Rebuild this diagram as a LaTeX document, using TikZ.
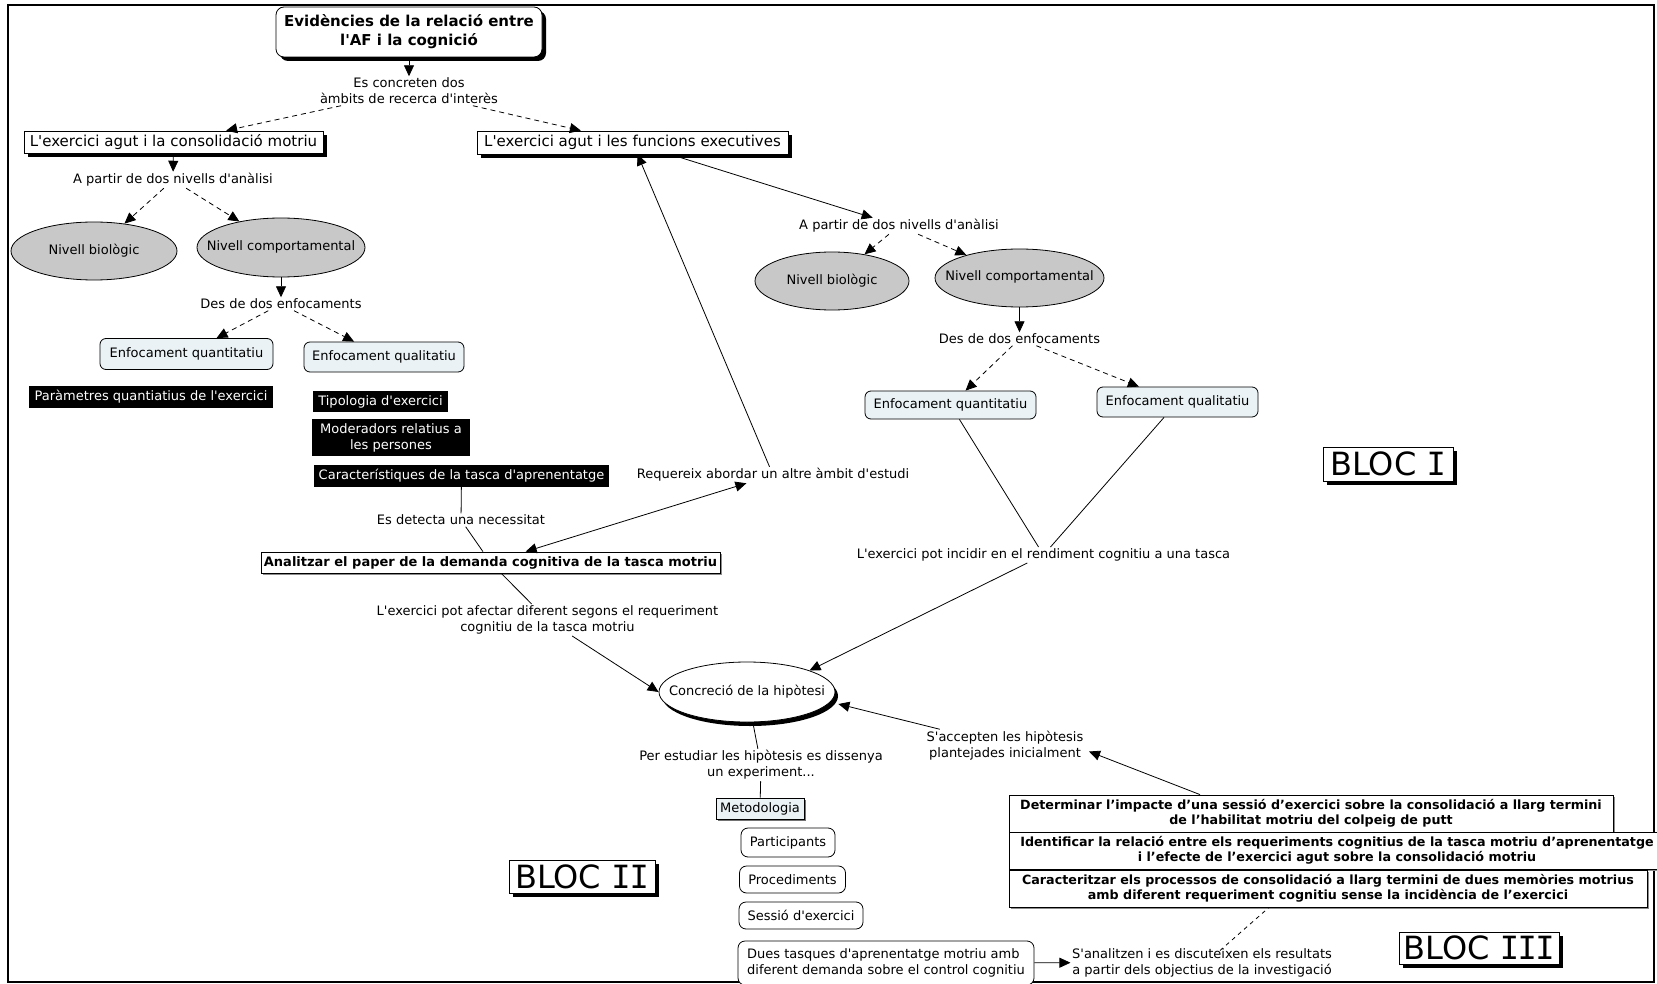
\documentclass[tikz,border=0pt]{standalone}
\usepackage{fontspec}
\setmainfont{DejaVu Sans}[Ligatures=TeXOff]
\newfontfamily\monoI{DejaVu Sans Mono}
\usetikzlibrary{arrows.meta,shadows,shapes.geometric}

\definecolor{palefill}{HTML}{EAF2F5}
\definecolor{levelgrey}{HTML}{C8C8C8}

\tikzset{
  txt/.style={font=\fontsize{13}{16}\selectfont},
  phrase/.style={txt, align=center, inner sep=1.5pt},
  cbox/.style={txt, draw, line width=0.8pt, fill=white, align=center, inner sep=0pt},
  bigbox/.style={cbox, font=\fontsize{15}{19}\selectfont,
    general shadow={fill=black, shadow xshift=4pt, shadow yshift=-4pt}},
  titlebox/.style={bigbox, rounded corners=8pt, font=\bfseries\fontsize{15}{19}\selectfont},
  approach/.style={cbox, fill=palefill, rounded corners=6pt},
  blackbox/.style={txt, fill=black, text=white, align=center, inner sep=0pt},
  boldbox/.style={cbox, font=\bfseries\fontsize{13}{16}\selectfont,
    general shadow={fill=black!45, shadow xshift=1.5pt, shadow yshift=-1.5pt}},
  aimbox/.style={boldbox, font=\bfseries\fontsize{12.7}{15.5}\selectfont},
  stepbox/.style={cbox, rounded corners=7pt},
  lvlell/.style={ellipse, draw, line width=0.8pt, fill=levelgrey, inner sep=0pt},
  bloc/.style={draw, line width=0.8pt, fill=white, inner sep=0pt,
    font=\fontsize{32}{32}\selectfont,
    general shadow={fill=black, shadow xshift=4pt, shadow yshift=-4pt}},
  plainline/.style={line width=0.8pt},
  arr/.style={plainline, -{Triangle[length=11pt,width=10pt]}},
  darr/.style={arr, dash pattern=on 5pt off 4pt},
}

\begin{document}
\begin{tikzpicture}[x=1pt, y=-1pt]
\useasboundingbox (0,0) rectangle (1657,984);
\fill[white] (0,0) rectangle (1657,984);
\draw[line width=1.6pt] (8,5) rectangle (1654,982);

% ---- top of the map
\node[titlebox, minimum width=266pt, minimum height=50pt] (title) at (409,32)
  {Evidències de la relació entre\\l'AF i la cognició};
\node[phrase] (L1) at (409,91) {Es concreten dos\\àmbits de recerca d'interès};
\node[bigbox, minimum width=299pt, minimum height=22pt] (box1) at (173.5,142)
  {L'exercici agut i la consolidació motriu};
\node[bigbox, minimum width=311pt, minimum height=23pt] (box2) at (632.5,142.5)
  {L'exercici agut i les funcions executives};

% ---- left branch
\node[phrase] (L2) at (173,180) {A partir de dos nivells d'anàlisi};
\node[lvlell, minimum width=166pt, minimum height=58pt,
  label={[txt]center:Nivell biològic}] (E1) at (94,251) {};
\node[lvlell, minimum width=168pt, minimum height=59pt,
  label={[txt, yshift=1pt]center:Nivell comportamental}] (E2) at (281,247.5) {};
\node[phrase] (L3) at (281,304) {Des de dos enfocaments};
\node[approach, minimum width=173pt, minimum height=31pt] (Q1) at (186.5,354) {Enfocament quantitatiu};
\node[approach, minimum width=160pt, minimum height=30pt] (Ql1) at (384,357) {Enfocament qualitatiu};

\node[blackbox, minimum width=244pt, minimum height=22pt] (B1) at (151,397)
  {Paràmetres quantiatius de l'exercici};
\node[blackbox, minimum width=135pt, minimum height=21pt] (B2) at (380.5,401.5)
  {Tipologia d'exercici};
\node[blackbox, minimum width=158pt, minimum height=37pt] (B3) at (391,437.5)
  {Moderadors relatius a\\les persones};
\node[blackbox, minimum width=295pt, minimum height=22pt] (B4) at (461.5,476)
  {Característiques de la tasca d'aprenentatge};

\node[phrase] (L4) at (461,520) {Es detecta una necessitat};
\node[boldbox, minimum width=459pt, minimum height=21pt] (An) at (490.5,562.5)
  {Analitzar el paper de la demanda cognitiva de la tasca motriu};
\node[phrase] (L5) at (773,475) {Requereix abordar un altre àmbit d'estudi};
\node[phrase] (L9) at (547.5,620)
  {L'exercici pot afectar diferent segons el requeriment\\cognitiu de la tasca motriu};

% ---- right branch
\node[phrase] (L6) at (899,226) {A partir de dos nivells d'anàlisi};
\node[lvlell, minimum width=154pt, minimum height=58pt,
  label={[txt]center:Nivell biològic}] (E3) at (832,281) {};
\node[lvlell, minimum width=169pt, minimum height=58pt,
  label={[txt, yshift=1pt]center:Nivell comportamental}] (E4) at (1019.5,278) {};
\node[phrase] (L7) at (1019.5,339) {Des de dos enfocaments};
\node[approach, minimum width=171pt, minimum height=28pt] (Q2) at (950.5,405) {Enfocament quantitatiu};
\node[approach, minimum width=161pt, minimum height=30pt] (Ql2) at (1177.5,402) {Enfocament qualitatiu};
\node[phrase] (L8) at (1043.5,555) {L'exercici pot incidir en el rendiment cognitiu a una tasca};

% ---- hypothesis and method
\node[ellipse, draw, line width=0.8pt, fill=white, inner sep=0pt,
  minimum width=176pt, minimum height=60pt,
  general shadow={fill=black, shadow xshift=3pt, shadow yshift=-4pt},
  label={[txt]center:Concreció de la hipòtesi}] (C) at (747,692) {};
\node[phrase] (L10) at (1005,745.5) {S'accepten les hipòtesis\\plantejades inicialment};
\node[phrase] (L11) at (761,765) {Per estudiar les hipòtesis es dissenya\\un experiment...};
\node[cbox, fill=palefill, minimum width=88pt, minimum height=21pt,
  general shadow={fill=black!55, shadow xshift=1.5pt, shadow yshift=-1.5pt}] (M) at (760,808.5) {Metodologia};
\node[stepbox, minimum width=94pt, minimum height=29pt] (P1) at (788,842.5) {Participants};
\node[stepbox, minimum width=106pt, minimum height=27pt] (P2) at (792.5,879.5) {Procediments};
\node[stepbox, minimum width=124pt, minimum height=27pt] (P3) at (801,915.5) {Sessió d'exercici};
\node[stepbox, align=left, minimum width=296pt, minimum height=44pt] (P4) at (886,963)
  {Dues tasques d'aprenentatge motriu amb\\diferent demanda sobre el control cognitiu};
\node[phrase] (L12) at (1202,962.5)
  {S'analitzen i es discuteixen els resultats\\a partir dels objectius de la investigació};

% ---- aims of the study
\node[aimbox, minimum width=604pt, minimum height=37pt] (D1) at (1311,813.5)
  {Determinar l’impacte d’una sessió d’exercici sobre la consolidació a llarg termini\\de l’habilitat motriu del colpeig de putt};
\node[aimbox, minimum width=656pt, minimum height=37pt] (D2) at (1337,850.5)
  {Identificar la relació entre els requeriments cognitius de la tasca motriu d’aprenentatge\\i l’efecte de l’exercici agut sobre la consolidació motriu};
\node[aimbox, minimum width=638pt, minimum height=37pt] (D3) at (1328,888.5)
  {Caracteritzar els processos de consolidació a llarg termini de dues memòries motrius\\amb diferent requeriment cognitiu sense la incidència de l’exercici};

% ---- block labels
\node[bloc, minimum width=130pt, minimum height=34pt] (bloc1) at (1388,464)
  {BLOC {\monoI I}};
\node[bloc, minimum width=146pt, minimum height=33pt] (bloc2) at (582,876.5)
  {BLOC {\monoI I\kern-1pt I}};
\node[bloc, minimum width=160pt, minimum height=32pt] (bloc3) at (1479,948)
  {BLOC {\monoI I\kern-1.5pt I\kern-1.5pt I}};

% ---- connectors
\draw[arr] (title) -- (L1);
\draw[darr] (L1) -- (box1);
\draw[darr] (L1) -- (box2);

\draw[arr] (box1) -- (L2);
\draw[darr] (L2) -- (E1);
\draw[darr] (L2) -- (E2);
\draw[arr] (E2) -- (L3);
\draw[darr] (L3) -- (Q1);
\draw[darr] (L3) -- (Ql1);

\draw[plainline] (B4) -- (L4);
\draw[plainline] (L4) -- (An);
\draw[plainline, {Triangle[length=11pt,width=10pt]}-{Triangle[length=11pt,width=10pt]}] (An) -- (L5);
\draw[arr] (L5) -- (box2);
\draw[plainline] (An) -- (L9);
\draw[arr] (L9) -- (C.west);

\draw[arr] (box2) -- (L6);
\draw[darr] (L6) -- (E3);
\draw[darr] (L6) -- (E4);
\draw[arr] (E4) -- (L7);
\draw[darr] (L7) -- (Q2);
\draw[darr] (L7) -- (Ql2);
\draw[plainline] (Q2) -- (L8);
\draw[plainline] (Ql2) -- (L8);
\draw[arr] (L8) -- (C.north east);

\draw[arr] ([xshift=-111pt]D1.north) -- ([xshift=4pt,yshift=-6pt]L10.east);
\draw[arr] (L10) -- ([xshift=3pt,yshift=-12pt]C.east);

\draw[plainline] (C) -- (L11);
\draw[plainline] (L11) -- (M);
\draw[arr] (P4) -- (L12);
\draw[plainline, dash pattern=on 4pt off 4pt] ([xshift=18pt,yshift=-4pt]L12.north) -- ([xshift=-59pt]D3.south);
\end{tikzpicture}
\end{document}
